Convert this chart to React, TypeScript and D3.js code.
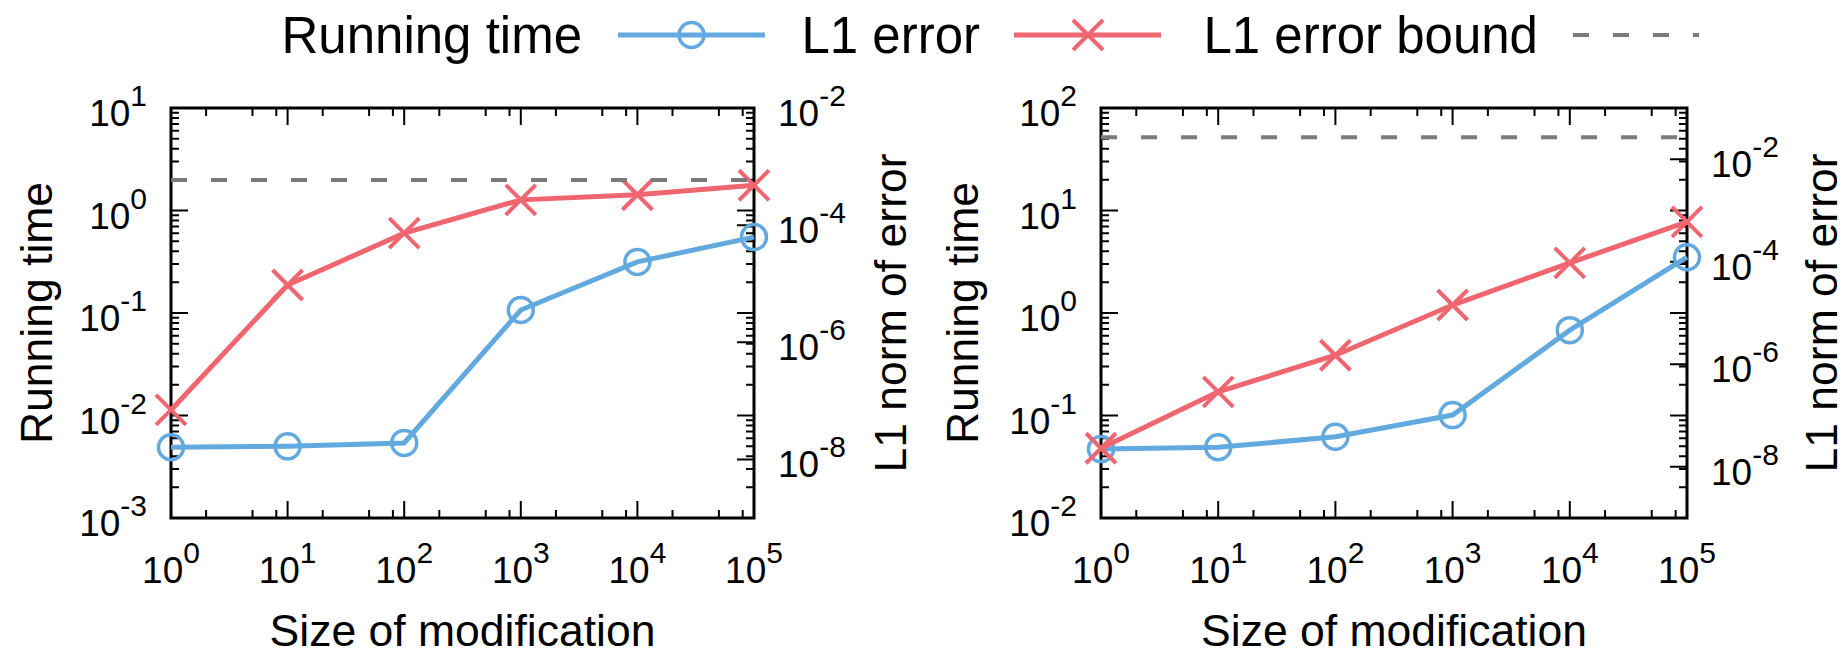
import * as d3 from "d3";

// ---------- DATA ----------
const sizes = [1, 10, 100, 1000, 10000, 100000];

// left panel
const leftRunningTime = [0.0049, 0.005, 0.0054, 0.107, 0.315, 0.55];
const leftL1Error = [7.0e-8, 9.5e-6, 7.3e-5, 2.7e-4, 3.3e-4, 4.8e-4];
const leftErrorBound = 5.9e-4;

// right panel
const rightRunningTime = [0.047, 0.049, 0.062, 0.101, 0.68, 3.5];
const rightL1Error = [2.3e-8, 2.9e-7, 1.5e-6, 1.43e-5, 9.5e-5, 6.0e-4];
const rightErrorBound = 0.027;

const xTickExps = [0, 1, 2, 3, 4, 5];
const leftY1Exps = [-3, -2, -1, 0, 1];
const rightY1Exps = [-2, -1, 0, 1, 2];
const y2LabelExps = [-8, -6, -4, -2];

const legendLabels = ["Running time", "L1 error", "L1 error bound"];
const xTitle = "Size of modification";
const y1Title = "Running time";
const y2Title = "L1 norm of error";

const BLUE = "#62a9df";
const RED = "#f06670";
const GRAY = "#7a7a7a";
const FONT = "'Liberation Sans', Arial, Helvetica, sans-serif";

const W = 1845;
const H = 654;

function Pow({ x, y, exp, anchor }) {
  return (
    <text x={x} y={y} textAnchor={anchor} fontSize={37} fontFamily={FONT} fill="#000">
      10<tspan dy={-20} fontSize={30}>{exp}</tspan>
    </text>
  );
}

function Circle({ cx, cy }) {
  return <circle cx={cx} cy={cy} r={12.5} fill="none" stroke={BLUE} strokeWidth={3.5} />;
}

function Cross({ cx, cy }) {
  const s = 15;
  return (
    <path
      d={`M${cx - s},${cy - s}L${cx + s},${cy + s}M${cx - s},${cy + s}L${cx + s},${cy - s}`}
      stroke={RED}
      strokeWidth={4}
      fill="none"
    />
  );
}

function Panel({ frame, y1Domain, y2Domain, y1Exps, time, err, bound, y1TitleX, y2TitleX }) {
  const { x0, x1, y0, y1 } = frame;
  const x = d3.scaleLog().domain([1, 1e5]).range([x0, x1]);
  const yL = d3.scaleLog().domain(y1Domain).range([y1, y0]);
  const yR = d3.scaleLog().domain(y2Domain).range([y1, y0]);

  const major = 17;
  const minor = 8;
  const ticks = [];

  // x ticks (bottom + mirrored top)
  xTickExps.forEach((e, i) => {
    const px = x(Math.pow(10, e));
    ticks.push(`M${px},${y1}v${-major}M${px},${y0}v${major}`);
    if (i < xTickExps.length - 1) {
      [2, 5, 8].forEach(m => {
        const mx = x(m * Math.pow(10, e));
        ticks.push(`M${mx},${y1}v${-minor}M${mx},${y0}v${minor}`);
      });
    }
  });

  // y1 ticks (left + mirrored right)
  y1Exps.forEach((e, i) => {
    const py = yL(Math.pow(10, e));
    ticks.push(`M${x0},${py}h${major}M${x1},${py}h${-major}`);
    if (i < y1Exps.length - 1) {
      d3.range(2, 10).forEach(m => {
        const my = yL(m * Math.pow(10, e));
        ticks.push(`M${x0},${my}h${minor}M${x1},${my}h${-minor}`);
      });
    }
  });

  // y2 major ticks
  y2LabelExps.forEach(e => {
    const py = yR(Math.pow(10, e));
    ticks.push(`M${x1},${py}h${-major}`);
  });

  const timeLine = d3.line<number>().x((d, i) => x(sizes[i])).y(d => yL(d));
  const errLine = d3.line<number>().x((d, i) => x(sizes[i])).y(d => yR(d));
  const by = yR(bound);
  const midY = (y0 + y1) / 2;

  return (
    <g>
      <path d={ticks.join("")} stroke="#000" strokeWidth={2} fill="none" />
      <rect x={x0} y={y0} width={x1 - x0} height={y1 - y0} fill="none" stroke="#000" strokeWidth={3} />

      {xTickExps.map(e => (
        <Pow key={"x" + e} x={x(Math.pow(10, e))} y={y1 + 65} exp={e} anchor="middle" />
      ))}
      {y1Exps.map(e => (
        <Pow key={"y" + e} x={x0 - 24} y={yL(Math.pow(10, e)) + 18} exp={e} anchor="end" />
      ))}
      {y2LabelExps.map(e => (
        <Pow key={"r" + e} x={x1 + 24} y={yR(Math.pow(10, e)) + 18} exp={e} anchor="start" />
      ))}

      <path d={timeLine(time)} stroke={BLUE} strokeWidth={5} fill="none" />
      {time.map((d, i) => <Circle key={"c" + i} cx={x(sizes[i])} cy={yL(d)} />)}
      <path d={errLine(err)} stroke={RED} strokeWidth={5} fill="none" />
      {err.map((d, i) => <Cross key={"x" + i} cx={x(sizes[i])} cy={yR(d)} />)}
      <line x1={x0} x2={x1} y1={by} y2={by} stroke={GRAY} strokeWidth={4} strokeDasharray="16 24" />

      <text x={(x0 + x1) / 2} y={646} textAnchor="middle" fontSize={44.5} fontFamily={FONT}>{xTitle}</text>
      <text transform={`translate(${y1TitleX},${midY}) rotate(-90)`} textAnchor="middle" fontSize={44.5} fontFamily={FONT}>{y1Title}</text>
      <text transform={`translate(${y2TitleX},${midY}) rotate(-90)`} textAnchor="middle" fontSize={44.5} fontFamily={FONT}>{y2Title}</text>
    </g>
  );
}

export default function App() {
  const ly = 35;
  return (
    <svg width={W} height={H} style={{ position: "absolute", left: 0, top: 0, background: "#fff" }}>
      {/* legend */}
      <g fontFamily={FONT} fontSize={51}>
        <text x={582} y={53} textAnchor="end">{legendLabels[0]}</text>
        <line x1={618} x2={765} y1={ly} y2={ly} stroke={BLUE} strokeWidth={5} />
        <Circle cx={691.5} cy={ly} />
        <text x={980} y={53} textAnchor="end">{legendLabels[1]}</text>
        <line x1={1014} x2={1161} y1={ly} y2={ly} stroke={RED} strokeWidth={5} />
        <Cross cx={1088} cy={ly} />
        <text x={1538} y={53} textAnchor="end">{legendLabels[2]}</text>
        <line x1={1573} x2={1699} y1={ly} y2={ly} stroke={GRAY} strokeWidth={4} strokeDasharray="16 24" />
      </g>

      <Panel
        frame={{ x0: 171, x1: 754, y0: 108, y1: 518 }}
        y1Domain={[1e-3, 1e1]}
        y2Domain={[1e-9, 1e-2]}
        y1Exps={leftY1Exps}
        time={leftRunningTime}
        err={leftL1Error}
        bound={leftErrorBound}
        y1TitleX={52}
        y2TitleX={906}
      />
      <Panel
        frame={{ x0: 1101, x1: 1687, y0: 108, y1: 518 }}
        y1Domain={[1e-2, 1e2]}
        y2Domain={[1e-9, 1e-1]}
        y1Exps={rightY1Exps}
        time={rightRunningTime}
        err={rightL1Error}
        bound={rightErrorBound}
        y1TitleX={978}
        y2TitleX={1837}
      />
    </svg>
  );
}
